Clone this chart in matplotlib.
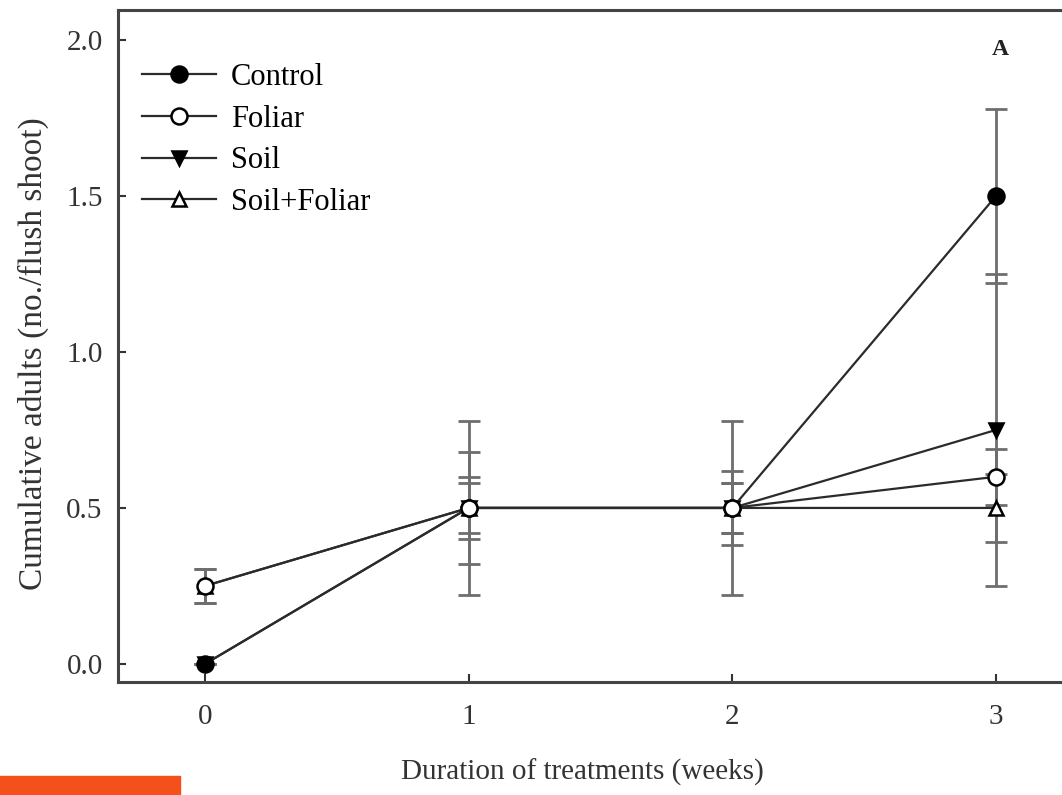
import matplotlib
matplotlib.use("Agg")
import matplotlib.pyplot as plt
from matplotlib.patches import Rectangle

# Data
weeks = [0, 1, 2, 3]
control = [0.0, 0.5, 0.5, 1.5]
control_err = [0.0, 0.28, 0.28, 0.28]
foliar = [0.25, 0.5, 0.5, 0.6]
foliar_err = [0.055, 0.18, 0.12, 0.09]
soil = [0.0, 0.5, 0.5, 0.75]
soil_err = [0.0, 0.10, 0.08, 0.5]
soil_foliar = [0.25, 0.5, 0.5, 0.5]
soil_foliar_err = [0.055, 0.08, 0.08, 0.11]

plt.rcParams["font.family"] = ["Liberation Serif", "DejaVu Serif"]

fig = plt.figure(figsize=(10.62, 7.95), dpi=100)
ax = fig.add_axes([0.1111, 0.1421, 0.9087, 0.8453])

line_col = "#2b2b2b"
err_col = "#6e6e6e"

series = [
    ("Soil", soil, soil_err, "v", "black", 2),
    ("Control", control, control_err, "o", "black", 3),
    ("Soil+Foliar", soil_foliar, soil_foliar_err, "^", "white", 4),
    ("Foliar", foliar, foliar_err, "o", "white", 5),
]

handles = {}
for name, vals, errs, mk, fc, z in series:
    ax.errorbar(weeks, vals, yerr=errs, fmt="none", ecolor=err_col,
                elinewidth=2.0, capsize=8, capthick=2.0, zorder=1)
    h, = ax.plot(weeks, vals, color=line_col, lw=1.6, marker=mk,
                 markersize=11.5 if mk == "o" else 9.5, markerfacecolor=fc,
                 markeredgecolor="black", markeredgewidth=1.8, zorder=z)
    handles[name] = h

order = ["Control", "Foliar", "Soil", "Soil+Foliar"]
ax.legend([handles[n] for n in order], order, loc="upper left",
          bbox_to_anchor=(-0.016, 0.98), frameon=False, fontsize=22,
          handlelength=2.4, handletextpad=0.5, labelspacing=0.41,
          borderaxespad=0.9)

ax.set_xlim(-0.33, 3.33)
ax.set_ylim(-0.058, 2.096)
ax.set_xticks([0, 1, 2, 3])
ax.set_yticks([0.0, 0.5, 1.0, 1.5, 2.0])
ax.set_yticklabels(["0.0", "0.5", "1.0", "1.5", "2.0"])
ax.tick_params(direction="in", length=6, width=1.5, labelsize=21,
               colors="#333333", pad=11)
ax.tick_params(axis="x", pad=16)

for sp in ax.spines.values():
    sp.set_linewidth(2.2)
    sp.set_color("#444444")

ax.set_xlabel("Duration of treatments (weeks)", fontsize=21, color="#333333")
ax.set_ylabel("Cumulative adults (no./flush shoot)", fontsize=24,
              color="#333333")
ax.xaxis.set_label_coords(0.481, -0.114)
ax.yaxis.set_label_coords(-0.072, 0.488)

ax.text(3.015, 1.97, "A", fontsize=17, fontweight="bold", ha="center",
        va="center", color="#222222")

fig.patches.append(Rectangle((0, 0), 180 / 1062, 19 / 795,
                             transform=fig.transFigure, color="#F4501C",
                             zorder=10))

fig.savefig("out.png", dpi=100)
